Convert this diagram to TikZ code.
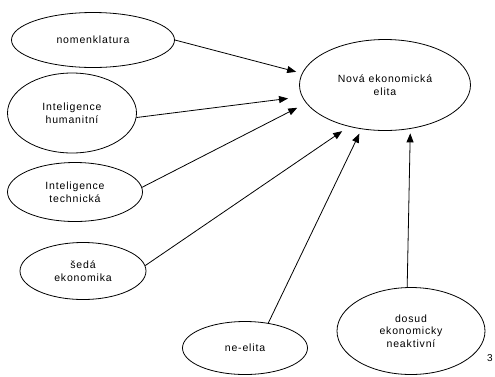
\documentclass[tikz,border=0pt]{standalone}
\usepackage{fontspec}
\setmainfont{Liberation Sans}[LetterSpace=8]
\usetikzlibrary{shapes.geometric}
\usetikzlibrary{arrows.meta}

\tikzset{
    group/.style={draw, ellipse, line width=0.8pt, inner sep=0pt, align=center,
        font=\fontsize{10.5}{12.5}\selectfont},
    link/.style={line width=0.8pt, -{Triangle[length=9pt,width=7pt]}}
}

\begin{document}
\begin{tikzpicture}[x=1pt,y=-1pt]
                    \useasboundingbox (0,0) rectangle (495,376);

                    \node[group, minimum width=171pt, minimum height=91pt] (nova) at (385,85) {Nová ekonomická\\elita};

                    \node[group, minimum width=163pt, minimum height=55pt] (nomen) at (93,40) {nomenklatura};
                    \node[group, minimum width=129pt, minimum height=80pt] (human) at (72,113) {Inteligence\\humanitní};
                    \node[group, minimum width=135pt, minimum height=59pt] (techn) at (75,192) {Inteligence\\technická};
                    \node[group, minimum width=126pt, minimum height=57pt] (seda) at (83,271) {šedá\\ekonomika};
                    \node[group, minimum width=125pt, minimum height=53pt] (neelita) at (245,348) {ne-elita};
                    \node[group, minimum width=148pt, minimum height=87pt] (dosud) at (411,331) {dosud\\ekonomicky\\neaktivní};

                    \draw[link, shorten >=6pt] (nomen.east) -- (nova.172);
                    \draw[link, shorten >=14pt] (human.356) -- (nova.188);
                    \draw[link, shorten >=10pt] (techn.4) -- (nova.193);
                    \draw[link, shorten >=8pt] (seda.5) -- (nova.229);
                    \draw[link, shorten >=5pt] (neelita.47) -- (nova.242);
                    \draw[link, shorten >=4.5pt] (dosud.95) -- (nova.300);

                    \node[font=\fontsize{10}{11}\selectfont, inner sep=0pt] (page) at (490,358) {3};
                \end{tikzpicture}
\end{document}
